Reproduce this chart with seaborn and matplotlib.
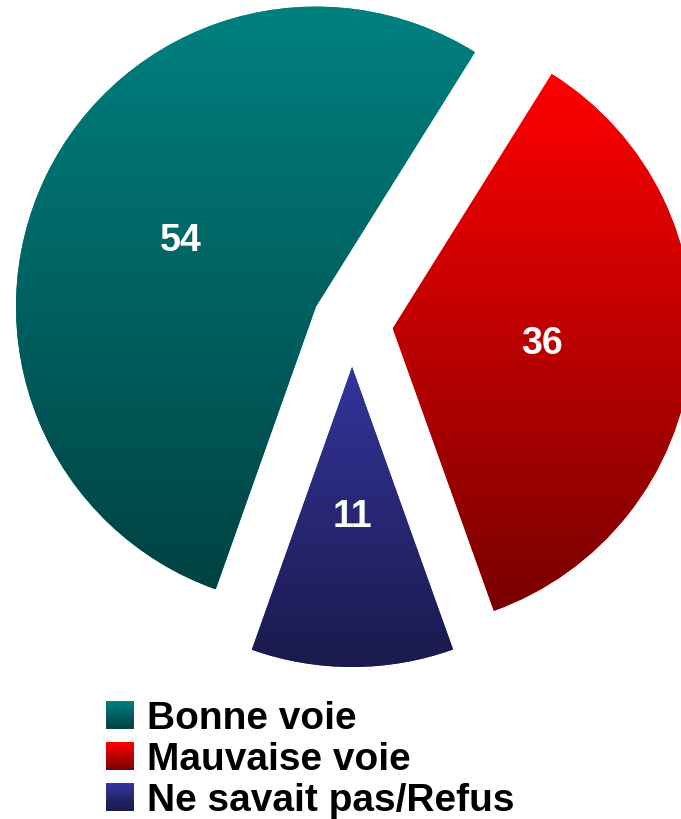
import numpy as np
import matplotlib
matplotlib.use("Agg")
import matplotlib.pyplot as plt
from matplotlib.patches import Patch
from matplotlib.colors import to_rgb
import seaborn as sns

# ---- data ----
categories = ["Bonne voie", "Ne savait pas/Refus", "Mauvaise voie"]   # drawing order (counter-clockwise)
values = [54, 11, 36]
legend_order = ["Bonne voie", "Mauvaise voie", "Ne savait pas/Refus"]

# ---- styles ----
top_colors = {"Bonne voie": "#008080", "Mauvaise voie": "#ff0000", "Ne savait pas/Refus": "#34349c"}
bot_colors = {"Bonne voie": "#004242", "Mauvaise voie": "#780000", "Ne savait pas/Refus": "#1a1a4c"}

sns.set_theme(style="white")
plt.rcParams["font.family"] = ["Liberation Sans", "DejaVu Sans"]
plt.rcParams["text.color"] = "black"

W, H = 681, 819
fig = plt.figure(figsize=(W / 100, H / 100), dpi=100)
ax = fig.add_axes([0, 0, 1, 1])
ax.set_xlim(0, W)
ax.set_ylim(0, H)
ax.set_aspect("equal")
ax.axis("off")

total = sum(values)
wedges, texts, autotexts = ax.pie(
    values,
    radius=300,
    center=(352, H - 324),
    explode=[40, 43, 41],
    startangle=58,
    counterclock=True,
    colors=[top_colors[c] for c in categories],
    wedgeprops=dict(linewidth=0),
    autopct=lambda p: f"{p * total / 100:.0f}",
    pctdistance=0.5,
    textprops=dict(color="white", fontsize=27, fontweight="bold"),
    frame=True,
)
ax.set_xlim(0, W)
ax.set_ylim(0, H)
ax.axis("off")
for t in autotexts:
    t.set_zorder(20)


def grad(c_top, c_bot, n=256):
    a = np.array(to_rgb(c_top))
    b = np.array(to_rgb(c_bot))
    t = np.linspace(0, 1, n)[:, None]
    return (a * (1 - t) + b * t)[:, None, :]


leg = ax.legend(
    handles=[Patch(facecolor=top_colors[c], edgecolor="none") for c in legend_order],
    labels=legend_order,
    loc="upper left",
    bbox_to_anchor=(106, H - 701),
    bbox_transform=ax.transData,
    frameon=False,
    prop=dict(family="Liberation Sans", weight="bold", size=28),
    labelcolor="black",
    handlelength=0.70,
    handleheight=0.70,
    handletextpad=0.36,
    labelspacing=0.13,
    borderpad=0,
    borderaxespad=0,
)

fig.canvas.draw()
inv = ax.transData.inverted()

for w, c in zip(wedges, categories):
    bb = w.get_window_extent()
    (x0, y0), (x1, y1) = inv.transform([[bb.x0, bb.y0], [bb.x1, bb.y1]])
    im = ax.imshow(grad(top_colors[c], bot_colors[c]), extent=[x0, x1, y0, y1],
                   origin="upper", aspect="auto", zorder=w.get_zorder() + 0.5)
    im.set_clip_path(w)

for h, c in zip(leg.legend_handles, legend_order):
    bb = h.get_window_extent()
    (x0, y0), (x1, y1) = inv.transform([[bb.x0, bb.y0], [bb.x1, bb.y1]])
    ax.imshow(grad(top_colors[c], bot_colors[c]), extent=[x0, x1, y0, y1],
              origin="upper", aspect="auto", zorder=10)

ax.set_xlim(0, W)
ax.set_ylim(0, H)
ax.set_aspect("equal")
fig.savefig("out.png", dpi=100)
